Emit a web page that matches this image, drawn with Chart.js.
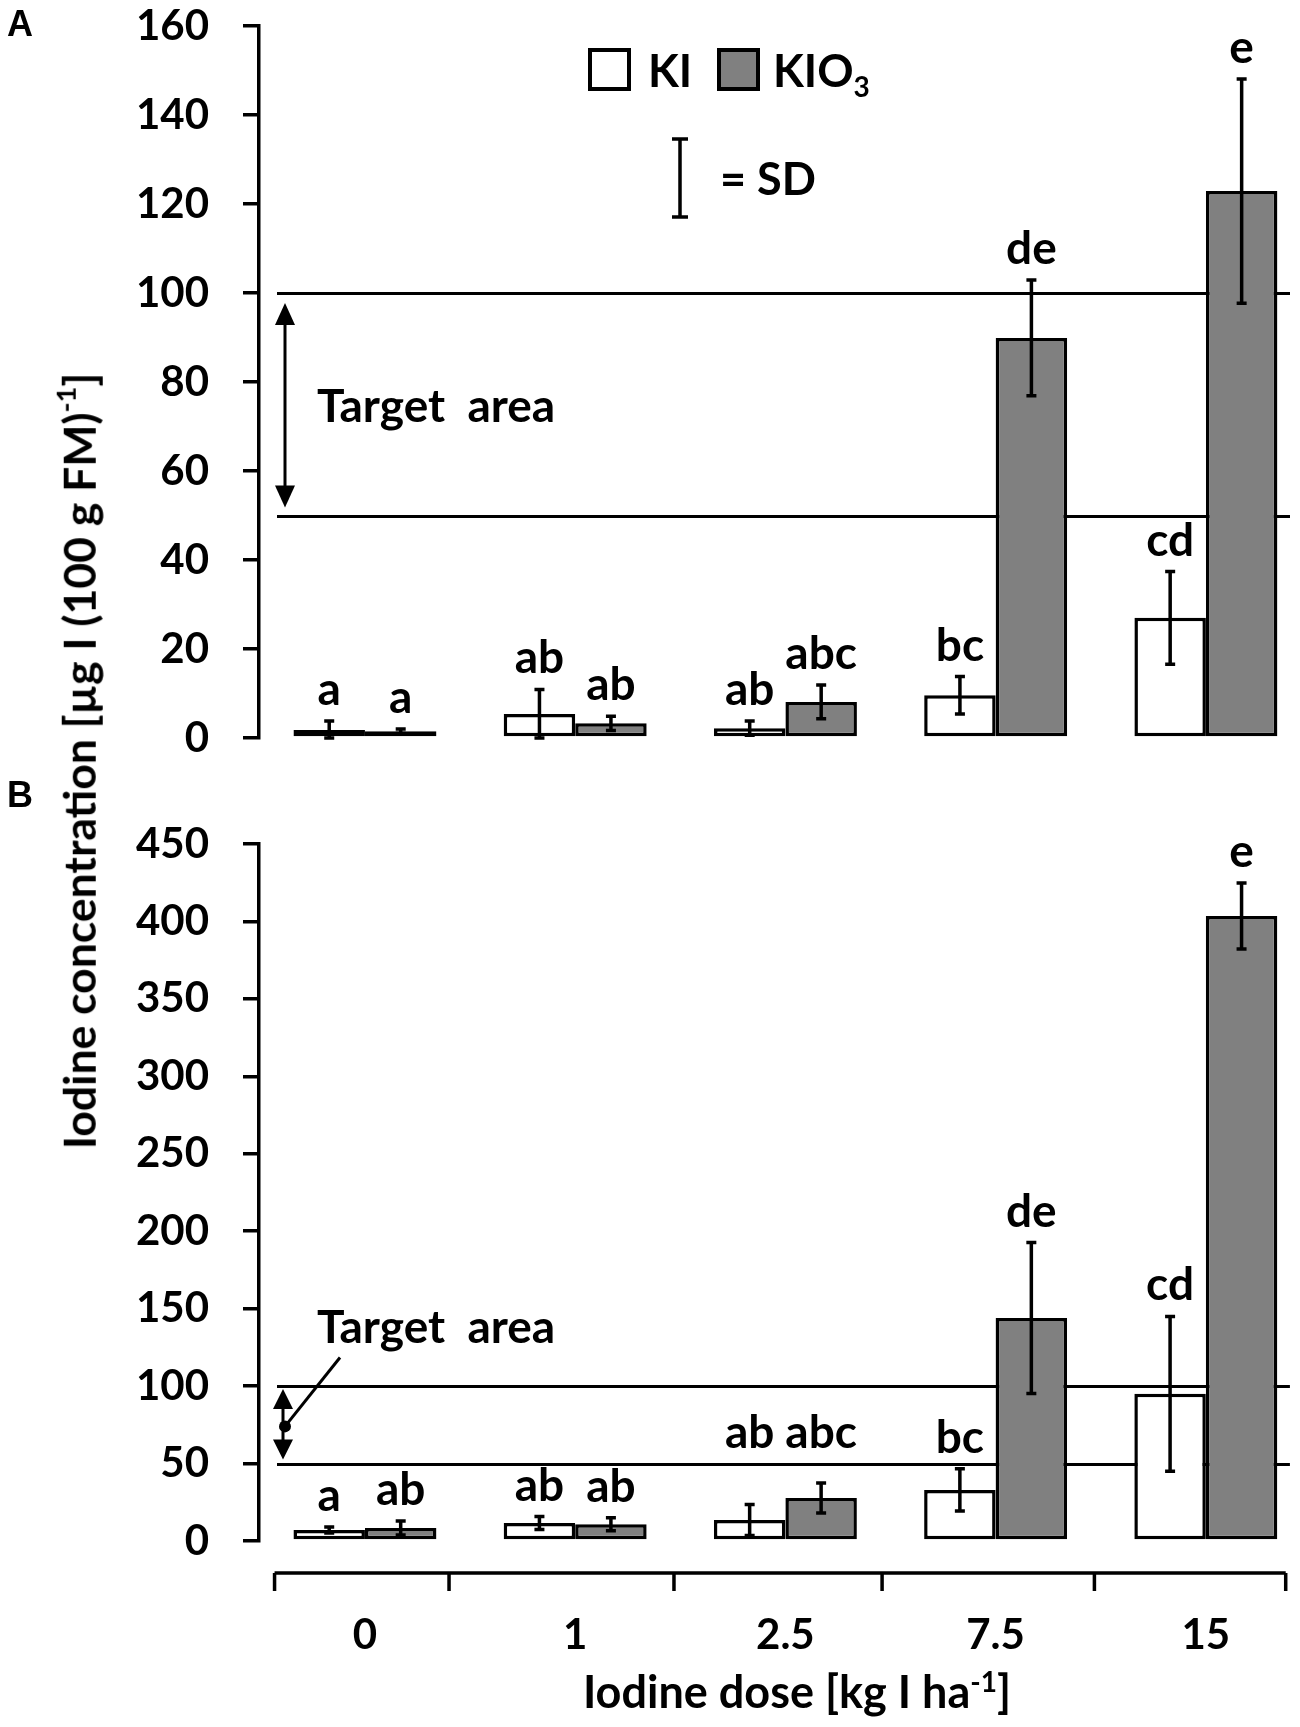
<!DOCTYPE html>
<html>
<head>
<meta charset="utf-8">
<title>Iodine concentration</title>
<script src="https://cdn.jsdelivr.net/npm/chart.js@4.4.0/dist/chart.umd.min.js"></script>
<style>
  body { margin: 0; background: #ffffff; }
  #page { position: relative; width: 1300px; height: 1727px; overflow: hidden; }
  #wrapA { position: absolute; left: 0; top: -60px; width: 1300px; height: 858px; }
  #wrapB { position: absolute; left: 0; top: 760px; width: 1300px; height: 967px; }
  #ytitle {
    position: absolute; left: 79px; top: 761px;
    transform: translate(-50%, -50%) rotate(-90deg);
    font: bold 44.5px Lato, "Liberation Sans", sans-serif;
    white-space: nowrap; line-height: 1; color: #000;
  }
  #ytitle sup { font-size: 27px; position: relative; top: -4px; vertical-align: super; line-height: 0; }
</style>
<script>
// dose categories (x axis)
var doses = ['0', '1', '2.5', '7.5', '15'];
var xPositions = [0, 1, 2, 3, 4];
// little tick marks of the detached x axis, in category units
var xAxisMarks = [-0.43, 0.40, 1.47, 2.46, 3.47, 4.38];

// panel A
var kiA = [1.8, 5.4, 2.2, 9.6, 27.0];
var kiA_sd = [2.0, 5.5, 1.6, 4.2, 10.4];
var kio3A = [1.5, 3.3, 8.1, 89.9, 122.9];
var kio3A_sd = [0.5, 1.6, 3.8, 13.0, 25.2];
var kiA_letters = ['a', 'ab', 'ab', 'bc', 'cd'];
var kio3A_letters = ['a', 'ab', 'abc', 'de', 'e'];
var yTicksA = [0, 20, 40, 60, 80, 100, 120, 140, 160];

// panel B
var kiB = [7.1, 11.6, 13.6, 33.0, 95.0];
var kiB_sd = [2.0, 4.2, 10.0, 13.6, 50.0];
var kio3B = [8.4, 10.8, 27.7, 144.0, 403.5];
var kio3B_sd = [4.5, 4.2, 9.7, 48.7, 21.3];
var kiB_letters = ['a', 'ab', 'ab', 'bc', 'cd'];
var kio3B_letters = ['ab', 'ab', 'abc', 'de', 'e'];
var yTicksB = [0, 50, 100, 150, 200, 250, 300, 350, 400, 450];

// target area (both panels)
var targetArea = [50, 100];

var black = '#000000';
var grey = '#808080';
var fontFamily = 'Lato, "Liberation Sans", sans-serif';
var shiftA = 60;   // canvas A starts 60px above the page top


function barDatasets(ki, kio3)
{
  return [{
    label: 'KI',
    data: ki.map(function (v, i) { return { x: xPositions[i], y: v }; }),
    backgroundColor: '#ffffff',
    borderColor: black,
    borderWidth: 3.5,
    borderSkipped: false
  }, {
    label: 'KIO3',
    data: kio3.map(function (v, i) { return { x: xPositions[i], y: v }; }),
    backgroundColor: grey,
    borderColor: black,
    borderWidth: 3.5,
    borderSkipped: false
  }];
}


// horizontal lines of the target area, behind the bars
var targetLines = {
  id: 'targetLines',
  beforeDatasetsDraw: function (chart) {
    var ctx = chart.ctx, y = chart.scales.y, a = chart.chartArea;
    ctx.save();
    ctx.strokeStyle = black;
    ctx.lineWidth = 3;
    targetArea.forEach(function (v) {
      var py = Math.round(y.getPixelForValue(v)) + 0.5;
      ctx.beginPath();
      ctx.moveTo(a.left + 18, py);
      ctx.lineTo(a.right, py);
      ctx.stroke();
    });
    ctx.restore();
  }
};


// error bars (SD) and the letters above them
function errorPlugin(sds, letters)
{
  return {
    id: 'errbars',
    afterDatasetsDraw: function (chart) {
      var ctx = chart.ctx, y = chart.scales.y;
      var lines = targetArea.map(function (v) { return y.getPixelForValue(v); });
      ctx.save();
      ctx.strokeStyle = black;
      ctx.fillStyle = black;
      ctx.lineWidth = 3.5;
      ctx.font = 'bold 46px ' + fontFamily;
      ctx.textAlign = 'center';
      ctx.textBaseline = 'alphabetic';
      chart.data.datasets.forEach(function (ds, d) {
        var meta = chart.getDatasetMeta(d);
        meta.data.forEach(function (bar, i) {
          var v = ds.data[i].y, sd = sds[d][i];
          var top = y.getPixelForValue(v + sd);
          var bot = y.getPixelForValue(Math.max(v - sd, 0));
          ctx.beginPath();
          ctx.moveTo(bar.x, top); ctx.lineTo(bar.x, bot);
          ctx.moveTo(bar.x - 5, top); ctx.lineTo(bar.x + 5, top);
          ctx.moveTo(bar.x - 5, bot); ctx.lineTo(bar.x + 5, bot);
          ctx.stroke();
          // letter sits above the SD bar, but never across a target line
          var base = top - 16;
          lines.forEach(function (ly) {
            if (base > ly && base - 34 < ly) { base = ly - 16; }
          });
          ctx.fillText(letters[d][i], bar.x, base);
        });
      });
      ctx.restore();
    }
  };
}


function doubleArrow(ctx, x, y1, y2, w, h)
{
  ctx.beginPath();
  ctx.moveTo(x, y1 + h - 2);
  ctx.lineTo(x, y2 - h + 2);
  ctx.stroke();
  ctx.beginPath();
  ctx.moveTo(x, y1); ctx.lineTo(x - w / 2, y1 + h); ctx.lineTo(x + w / 2, y1 + h);
  ctx.closePath(); ctx.fill();
  ctx.beginPath();
  ctx.moveTo(x, y2); ctx.lineTo(x - w / 2, y2 - h); ctx.lineTo(x + w / 2, y2 - h);
  ctx.closePath(); ctx.fill();
}


// text with a raised or lowered small part, e.g. KIO3 or ha-1
function richText(ctx, parts, x, y, size, align)
{
  var total = 0;
  parts.forEach(function (p) {
    ctx.font = 'bold ' + (p.small ? Math.round(size * 0.62) : size) + 'px ' + fontFamily;
    p.w = ctx.measureText(p.t).width;
    total += p.w;
  });
  var cx = align === 'center' ? x - total / 2 : x;
  ctx.textAlign = 'left';
  parts.forEach(function (p) {
    ctx.font = 'bold ' + (p.small ? Math.round(size * 0.62) : size) + 'px ' + fontFamily;
    ctx.fillText(p.t, cx, y + (p.shift || 0));
    cx += p.w;
  });
}


var annotationsA = {
  id: 'annotationsA',
  afterDraw: function (chart) {
    var ctx = chart.ctx, y = chart.scales.y, a = chart.chartArea;
    ctx.save();
    ctx.fillStyle = black;
    ctx.strokeStyle = black;
    ctx.textBaseline = 'alphabetic';

    // target area arrow and text (scale based)
    ctx.lineWidth = 3;
    doubleArrow(ctx, a.left + 26, y.getPixelForValue(targetArea[1]) + 10,
                y.getPixelForValue(targetArea[0]) - 8, 20, 22);
    richText(ctx, [{ t: 'Target  area' }], 317, y.getPixelForValue(71), 46, 'left');

    // fixed page items, in page coordinates
    ctx.translate(0, shiftA);

    ctx.font = 'bold 36px "Liberation Sans", Arial, sans-serif';
    ctx.textAlign = 'left';
    ctx.fillText('A', 7, 36);

    // legend boxes
    ctx.lineWidth = 4;
    ctx.fillStyle = '#ffffff';
    ctx.fillRect(590, 50, 39, 39);
    ctx.strokeRect(590, 50, 39, 39);
    ctx.fillStyle = grey;
    ctx.fillRect(719, 50, 39, 39);
    ctx.strokeRect(719, 50, 39, 39);
    ctx.fillStyle = black;
    richText(ctx, [{ t: 'KI' }], 648, 87, 45, 'left');
    richText(ctx, [{ t: 'KIO' }, { t: '3', small: true, shift: 10 }], 773, 87, 45, 'left');

    // SD symbol
    ctx.lineWidth = 3.5;
    ctx.beginPath();
    ctx.moveTo(680, 139); ctx.lineTo(680, 217);
    ctx.moveTo(672, 139); ctx.lineTo(688, 139);
    ctx.moveTo(672, 217); ctx.lineTo(688, 217);
    ctx.stroke();
    richText(ctx, [{ t: '= SD' }], 720, 195, 45, 'left');
    ctx.restore();
  }
};


var annotationsB = {
  id: 'annotationsB',
  afterDraw: function (chart) {
    var ctx = chart.ctx, y = chart.scales.y, x = chart.scales.x, a = chart.chartArea;
    ctx.save();
    ctx.fillStyle = black;
    ctx.strokeStyle = black;
    ctx.textBaseline = 'alphabetic';

    ctx.font = 'bold 36px "Liberation Sans", Arial, sans-serif';
    ctx.textAlign = 'left';
    ctx.fillText('B', 7, 47);

    // target area: small arrow, dot and leader line
    ctx.lineWidth = 3;
    var ax = a.left + 24;
    doubleArrow(ctx, ax, y.getPixelForValue(targetArea[1]) + 3,
                y.getPixelForValue(targetArea[0]) - 4, 20, 20);
    var dy = y.getPixelForValue(74);
    ctx.beginPath();
    ctx.arc(ax + 2, dy, 6, 0, Math.PI * 2);
    ctx.fill();
    ctx.beginPath();
    ctx.moveTo(ax + 2, dy);
    ctx.lineTo(340, y.getPixelForValue(118.5));
    ctx.stroke();
    richText(ctx, [{ t: 'Target  area' }], 317, y.getPixelForValue(128), 46, 'left');

    // detached x axis line with its marks
    var ly = a.bottom + 32;
    ctx.lineWidth = 3.5;
    ctx.beginPath();
    ctx.moveTo(x.getPixelForValue(xAxisMarks[0]), ly);
    ctx.lineTo(x.getPixelForValue(xAxisMarks[xAxisMarks.length - 1]), ly);
    xAxisMarks.forEach(function (m) {
      var px = x.getPixelForValue(m);
      ctx.moveTo(px, ly);
      ctx.lineTo(px, ly + 18);
    });
    ctx.stroke();

    // x axis title
    richText(ctx, [{ t: 'Iodine dose [kg I ha' }, { t: '-1', small: true, shift: -16 }, { t: ']' }],
             797, 948, 45, 'center');
    ctx.restore();
  }
};


function drawPanel(canvasId, ki, kio3, sds, letters, yMax, yTicks, showLabels, xHeight, padding, plugins)
{
  var ctx = document.getElementById(canvasId).getContext('2d');

  return new Chart(ctx, {
    type: 'bar',
    data: { datasets: barDatasets(ki, kio3) },
    plugins: [targetLines, errorPlugin(sds, letters)].concat(plugins),
    options: {
      responsive: true,
      maintainAspectRatio: false,
      animation: false,
      categoryPercentage: 0.68,
      barPercentage: 1.0,
      layout: { padding: padding, autoPadding: false },
      plugins: {
        legend: { display: false },
        tooltip: { enabled: false }
      },
      scales: {
        x: {
          type: 'linear',
          min: -0.504,
          max: 4.4,
          offset: false,
          afterBuildTicks: function (s) { s.ticks = xPositions.map(function (v) { return { value: v }; }); },
          grid: { display: false, drawTicks: false, offset: false },
          border: { display: false },
          ticks: {
            display: showLabels,
            autoSkip: false,
            maxRotation: 0,
            padding: 69,
            color: black,
            font: { family: fontFamily, size: 42, weight: 'bold' },
            callback: function (v, i) { return doses[i]; }
          },
          afterFit: function (s) { s.height = xHeight; }
        },
        y: {
          min: 0,
          max: yMax,
          afterBuildTicks: function (s) { s.ticks = yTicks.map(function (v) { return { value: v }; }); },
          grid: { drawOnChartArea: false, drawTicks: true, tickLength: 16, color: black, lineWidth: 3.5 },
          border: { display: true, color: black, width: 3.5 },
          ticks: {
            padding: 34,
            color: black,
            font: { family: fontFamily, size: 42, weight: 'bold' }
          },
          afterFit: function (s) { s.width = 259; }
        }
      }
    }
  });
}


function start()
{
  drawPanel('chartA', kiA, kio3A, [kiA_sd, kio3A_sd], [kiA_letters, kio3A_letters],
            160, yTicksA, false, 60, { left: 0, top: 86, right: 10, bottom: 0 }, [annotationsA]);
  drawPanel('chartB', kiB, kio3B, [kiB_sd, kio3B_sd], [kiB_letters, kio3B_letters],
            450, yTicksB, true, 186, { left: 0, top: 84, right: 10, bottom: 0 }, [annotationsB]);
}

window.addEventListener('load', function () {
  if (document.fonts && document.fonts.load) {
    Promise.all([
      document.fonts.load('bold 42px Lato'),
      document.fonts.load('bold 36px "Liberation Sans"')
    ]).then(start, start);
  } else {
    start();
  }
});
</script>
</head>
<body>
  <div id="page">
    <div id="wrapA"><canvas id="chartA"></canvas></div>
    <div id="wrapB"><canvas id="chartB"></canvas></div>
    <div id="ytitle">Iodine concentration [µg I (100 g FM)<sup>-1</sup>]</div>
  </div>
</body>
</html>
